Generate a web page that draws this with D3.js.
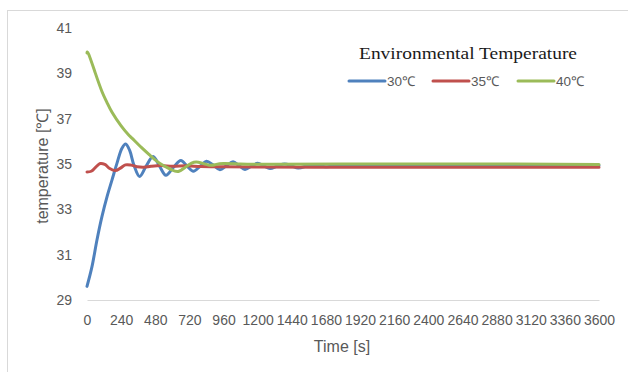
<!DOCTYPE html>
<html>
<head>
<meta charset="utf-8">
<script src="https://cdn.jsdelivr.net/npm/d3@7"></script>
<style>
  body { margin: 0; background: #fff; }
  svg { display: block; }
</style>
</head>
<body>
<div id="chart"></div>
<script>
// data
var xTicks = [0, 240, 480, 720, 960, 1200, 1440, 1680, 1920, 2160, 2400, 2640, 2880, 3120, 3360, 3600];
var yTicks = [29, 31, 33, 35, 37, 39, 41];

var t30 = [0, 35, 70, 105, 141, 176, 211, 246, 272, 300, 330, 370, 415, 465, 510, 555, 607, 660, 705, 748, 795, 840, 888, 935, 980, 1027, 1069, 1111, 1155, 1200, 1243, 1287, 1340, 1390, 1440, 1485, 1580, 1680, 1800, 2000, 2400, 2800, 3200, 3600];
var v30 = [29.6, 30.47, 31.65, 32.68, 33.56, 34.3, 35.04, 35.7, 35.88, 35.6, 34.95, 34.45, 34.9, 35.33, 34.9, 34.5, 34.85, 35.15, 34.9, 34.68, 34.9, 35.12, 34.95, 34.75, 34.92, 35.1, 34.93, 34.76, 34.9, 35.03, 34.92, 34.8, 34.92, 35.0, 34.92, 34.82, 34.97, 34.88, 34.95, 34.93, 34.94, 34.93, 34.94, 34.93];

var t35 = [0, 30, 60, 93, 125, 160, 199, 235, 270, 310, 352, 400, 450, 520, 600, 700, 800, 960, 1200, 1600, 2400, 3600];
var v35 = [34.65, 34.68, 34.85, 35.02, 34.98, 34.8, 34.71, 34.82, 34.96, 34.95, 34.88, 34.86, 34.9, 34.93, 34.9, 34.92, 34.89, 34.88, 34.87, 34.86, 34.86, 34.86];

var t40 = [0, 12, 58, 105, 140, 176, 240, 290, 316, 384, 440, 490, 540, 596, 642, 690, 736, 783, 853, 900, 960, 1080, 1300, 1800, 2400, 3000, 3600];
var v40 = [39.9, 39.84, 39.02, 38.2, 37.72, 37.28, 36.68, 36.3, 36.14, 35.72, 35.4, 35.13, 34.92, 34.74, 34.67, 34.85, 35.04, 35.08, 34.96, 34.97, 35.02, 35.0, 34.99, 35.0, 35.0, 35.0, 34.98];

var seriesNames = ["30℃", "35℃", "40℃"];
var seriesColors = ["#4F81BD", "#C0504D", "#9BBB59"];

var width = 628, height = 372;

var svg = d3.select("#chart").append("svg")
  .attr("width", width)
  .attr("height", height);

// chart frame (cropped on the right and bottom)
svg.append("rect")
  .attr("x", 7.5).attr("y", 10.5)
  .attr("width", 700).attr("height", 500)
  .attr("fill", "none")
  .attr("stroke", "#d9d9d9");

var x = d3.scaleLinear().domain([0, 3600]).range([87, 599]);
var y = d3.scaleLinear().domain([29, 41]).range([300, 28]);

// x axis
var xAxis = svg.append("g")
  .attr("transform", "translate(0,300)")
  .call(d3.axisBottom(x).tickValues(xTicks).tickSize(0).tickPadding(0).tickFormat(d3.format("d")));
xAxis.select(".domain").attr("stroke", "#d9d9d9").attr("stroke-width", 1.2);
xAxis.selectAll("text")
  .attr("y", 25).attr("dy", null)
  .attr("fill", "#595959")
  .style("font-family", "'Liberation Sans', Arial, sans-serif")
  .style("font-size", "14px");

// y axis
var yAxis = svg.append("g")
  .attr("transform", "translate(72,0)")
  .call(d3.axisLeft(y).tickValues(yTicks).tickSize(0).tickPadding(0));
yAxis.select(".domain").remove();
yAxis.selectAll("text")
  .attr("fill", "#595959")
  .style("font-family", "'Liberation Sans', Arial, sans-serif")
  .style("font-size", "14px");

// axis titles
svg.append("text")
  .attr("x", 342).attr("y", 352)
  .attr("text-anchor", "middle")
  .attr("fill", "#595959")
  .style("font-family", "'Liberation Sans', Arial, sans-serif")
  .style("font-size", "16px")
  .text("Time [s]");

svg.append("text")
  .attr("transform", "translate(48,166) rotate(-90)")
  .attr("text-anchor", "middle")
  .attr("fill", "#595959")
  .style("font-family", "'Liberation Sans', Arial, sans-serif")
  .style("font-size", "16px")
  .text("temperature [℃]");

// lines
var series = [
  { name: seriesNames[0], color: seriesColors[0], curve: d3.curveCatmullRom.alpha(0.5), values: t30.map((t, i) => ({ t: t, v: v30[i] })) },
  { name: seriesNames[1], color: seriesColors[1], curve: d3.curveCatmullRom.alpha(0.5), values: t35.map((t, i) => ({ t: t, v: v35[i] })) },
  { name: seriesNames[2], color: seriesColors[2], curve: d3.curveNatural, values: t40.map((t, i) => ({ t: t, v: v40[i] })) }
];

svg.append("g")
  .selectAll("path")
  .data(series)
  .enter()
  .append("path")
  .attr("d", d => d3.line().x(p => x(p.t)).y(p => y(p.v)).curve(d.curve)(d.values))
  .attr("fill", "none")
  .attr("stroke", d => d.color)
  .attr("stroke-width", 3)
  .attr("stroke-linejoin", "round")
  .attr("stroke-linecap", "round");

// title
svg.append("text")
  .attr("x", 359).attr("y", 59)
  .attr("fill", "#1a1a1a")
  .attr("textLength", 218)
  .attr("lengthAdjust", "spacingAndGlyphs")
  .style("font-family", "'Liberation Serif', 'Times New Roman', serif")
  .style("font-size", "17px")
  .text("Environmental  Temperature");

// legend
var legendX = [349, 433, 518];
var legend = svg.append("g")
  .selectAll("g")
  .data(series)
  .enter()
  .append("g")
  .attr("transform", (d, i) => "translate(" + legendX[i] + ",81)");

legend.append("line")
  .attr("x1", 0).attr("x2", 36)
  .attr("stroke", d => d.color)
  .attr("stroke-width", 3)
  .attr("stroke-linecap", "round");

legend.append("text")
  .attr("x", 38).attr("y", 5)
  .attr("fill", "#595959")
  .style("font-family", "'Liberation Sans', Arial, sans-serif")
  .style("font-size", "13.5px")
  .text(d => d.name);
</script>
</body>
</html>
